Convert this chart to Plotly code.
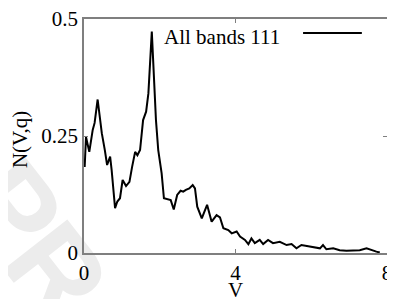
import plotly.graph_objects as go

# Data
v_values = [0.0, 0.018, 0.053, 0.14, 0.23, 0.28, 0.36, 0.47, 0.55, 0.61, 0.69, 0.73, 0.82, 0.88,
            0.95, 1.02, 1.11, 1.20, 1.27, 1.35, 1.41, 1.48, 1.56, 1.64, 1.70, 1.79, 1.90, 1.96,
            2.05, 2.11, 2.29, 2.37, 2.46, 2.55, 2.62, 2.69, 2.78, 2.87, 2.93, 2.99, 3.11, 3.25,
            3.37, 3.50, 3.59, 3.68, 3.81, 3.90, 4.03, 4.12, 4.25, 4.34, 4.42, 4.51, 4.64, 4.73,
            4.86, 4.99, 5.17, 5.35, 5.48, 5.61, 5.74, 5.88, 6.05, 6.23, 6.31, 6.40, 6.58, 6.75,
            6.93, 7.11, 7.28, 7.46, 7.59, 7.72, 7.81]
n_values = [0.19, 0.184, 0.248, 0.216, 0.263, 0.278, 0.328, 0.256, 0.22, 0.188, 0.206, 0.177,
            0.096, 0.11, 0.117, 0.156, 0.143, 0.152, 0.184, 0.216, 0.209, 0.22, 0.284, 0.302,
            0.341, 0.473, 0.284, 0.22, 0.17, 0.117, 0.113, 0.093, 0.124, 0.133, 0.131, 0.135,
            0.138, 0.145, 0.138, 0.099, 0.074, 0.103, 0.067, 0.081, 0.076, 0.053, 0.049, 0.042,
            0.046, 0.035, 0.028, 0.019, 0.031, 0.021, 0.028, 0.019, 0.028, 0.021, 0.024, 0.017,
            0.019, 0.010, 0.017, 0.015, 0.012, 0.010, 0.017, 0.008, 0.010, 0.006, 0.005, 0.006,
            0.006, 0.010, 0.006, 0.003, 0.001]
series_name = "All bands 111"
x_ticks = [0, 4, 8]
x_tick_labels = ["0", "4", "8"]
y_ticks = [0, 0.25, 0.5]
y_tick_labels = ["0", "0.25", "0.5"]

font_serif = "Liberation Serif"
axis_grey = "#7f7f7f"

fig = go.Figure()
fig.add_trace(go.Scatter(x=v_values, y=n_values, mode="lines",
                         line=dict(color="black", width=2), name=series_name,
                         showlegend=False))

axis_common = dict(showline=True, linecolor=axis_grey, linewidth=1.5, mirror="ticks",
                   ticks="inside", ticklen=4, tickwidth=1, tickcolor=axis_grey,
                   showgrid=False, zeroline=False, automargin=False,
                   ticklabeloverflow="allow",
                   tickfont=dict(family=font_serif, size=21, color="black"))

fig.update_xaxes(range=[0, 8], tickvals=x_ticks, ticktext=x_tick_labels, **axis_common)
fig.update_yaxes(range=[0, 0.5], tickvals=y_ticks, ticktext=y_tick_labels, **axis_common)

# faint watermark letters (bottom-left), drawn beneath everything
for letter, cx, cy in [("P", -0.205, 0.225), ("R", -0.06, -0.05)]:
    fig.add_shape(type="rect", xref="paper", yref="paper",
                  x0=cx - 0.01, x1=cx + 0.01, y0=cy - 0.01, y1=cy + 0.01,
                  line=dict(width=0), fillcolor="rgba(0,0,0,0)", layer="below",
                  label=dict(text="<b>" + letter + "</b>", textangle=52,
                             textposition="middle center",
                             font=dict(family="Liberation Sans", size=118,
                                       color="#ececec")))

# axis titles
fig.add_annotation(text="V", xref="paper", yref="paper", x=0.5, y=-0.16,
                   xanchor="center", yanchor="middle", showarrow=False,
                   font=dict(family=font_serif, size=21, color="black"))
fig.add_annotation(text="N(V,q)", xref="paper", yref="paper", x=-0.211, y=0.483,
                   xanchor="center", yanchor="middle", showarrow=False, textangle=-90,
                   font=dict(family=font_serif, size=21, color="black"))

# legend drawn as text + sample line (text left, line right as in reference)
fig.add_annotation(text=series_name, xref="paper", yref="paper", x=0.655, y=0.925,
                   xanchor="right", yanchor="middle", showarrow=False,
                   font=dict(family=font_serif, size=21, color="black"))
fig.add_shape(type="line", xref="paper", yref="paper", x0=0.723, x1=0.917,
              y0=0.94, y1=0.94, line=dict(color="black", width=2))

# the page body adds an 8px offset, so margins are shifted to compensate
fig.update_layout(width=395, height=299, margin=dict(l=76, r=16, t=11, b=54),
                  paper_bgcolor="white", plot_bgcolor="rgba(0,0,0,0)")

fig.write_html("out.html")
